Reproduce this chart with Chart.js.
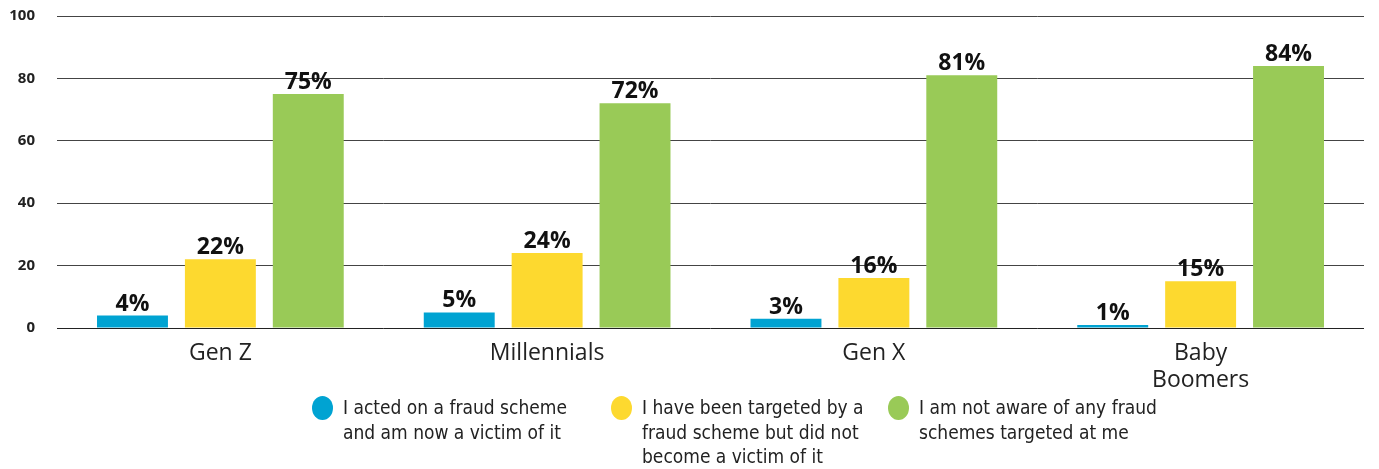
<!DOCTYPE html>
<html>
<head>
<meta charset="utf-8">
<script src="https://cdn.jsdelivr.net/npm/chart.js@4"></script>
<style>
    body { margin: 0; background: #fff; overflow: hidden; }
    #wrap { position: relative; width: 1379px; height: 469px; overflow: hidden; }
    #myChart { position: absolute; left: 0; top: -15px; }
    #legend { position: absolute; left: 0; top: 395px; width: 1379px; height: 74px; }
    .item { position: absolute; top: 0; display: flex; align-items: flex-start; }
    .dot { width: 21px; height: 24px; border-radius: 50%; margin-top: 1px; margin-right: 10px; flex: none; }
    .txt { font-family: "Liberation Sans Narrow", "DejaVu Sans Condensed", sans-serif; font-size: 19px; line-height: 24.5px; color: #222; white-space: pre; }
</style>
</head>
<body>
<div id="wrap">
    <canvas id="myChart" width="1379" height="484"></canvas>
    <div id="legend"></div>
</div>
<script>
let categories = [["Gen Z"], ["Millennials"], ["Gen X"], ["Baby", "Boomers"]];
let seriesNames = [
    "I acted on a fraud scheme\nand am now a victim of it",
    "I have been targeted by a\nfraud scheme but did not\nbecome a victim of it",
    "I am not aware of any fraud\nschemes targeted at me"
];
let victimValues = [4, 5, 3, 1];
let targetedValues = [22, 24, 16, 15];
let notAwareValues = [75, 72, 81, 84];
let yTicks = [0, 20, 40, 60, 80, 100];
let colors = ["#00a3d2", "#fdd92f", "#99ca57"];
let legendLeft = [312, 611, 888];

// draws the "xx%" labels above each bar
const valueLabels = {
    id: 'valueLabels',
    afterDatasetsDraw(chart) {
        const ctx = chart.ctx;
        ctx.save();
        ctx.font = 'bold 23px "Open Sans", sans-serif';
        ctx.fillStyle = '#111';
        ctx.textAlign = 'center';
        ctx.textBaseline = 'alphabetic';
        chart.data.datasets.forEach((ds, i) => {
            chart.getDatasetMeta(i).data.forEach((bar, j) => {
                ctx.fillText(ds.data[j] + '%', bar.x, bar.y - 5);
            });
        });
        ctx.restore();
    }
};

window.addEventListener("DOMContentLoaded", () => {
    const ctx = document.getElementById('myChart');
    const data = [victimValues, targetedValues, notAwareValues];

    new Chart(ctx, {
        type: 'bar',
        data: {
            labels: categories,
            datasets: data.map((d, i) => ({
                label: seriesNames[i],
                data: d,
                backgroundColor: colors[i],
                categoryPercentage: 0.807,
                barPercentage: 0.807
            }))
        },
        options: {
            responsive: false,
            animation: false,
            layout: { padding: { left: 0, right: 15, top: 0, bottom: 82 } },
            plugins: {
                legend: { display: false },
                tooltip: { enabled: false }
            },
            scales: {
                y: {
                    min: 0,
                    max: 100,
                    afterBuildTicks: axis => { axis.ticks = yTicks.map(v => ({ value: v })); },
                    afterFit: axis => { axis.width = 57; },
                    border: { display: false },
                    grid: {
                        color: ctx => ctx.tick && ctx.tick.value === 0 ? '#222' : '#444',
                        lineWidth: 1,
                        drawTicks: false
                    },
                    ticks: {
                        color: '#222',
                        padding: 22,
                        font: { family: '"Open Sans", sans-serif', size: 15, weight: 'bold' }
                    }
                },
                x: {
                    afterFit: axis => { axis.height = 59; },
                    border: { display: false },
                    grid: { display: false, drawTicks: false },
                    ticks: {
                        color: '#222',
                        padding: 12,
                        font: { family: '"Open Sans", sans-serif', size: 23, lineHeight: 1.17 }
                    }
                }
            }
        },
        plugins: [valueLabels]
    });

    let legendHTML = "";
    for (let i = 0; i < seriesNames.length; i++) {
        legendHTML += `
            <div class="item" style="left:${legendLeft[i]}px">
                <div class="dot" style="background:${colors[i]}"></div>
                <div class="txt">${seriesNames[i]}</div>
            </div>`;
    }
    document.getElementById("legend").innerHTML = legendHTML;
});
</script>
</body>
</html>
